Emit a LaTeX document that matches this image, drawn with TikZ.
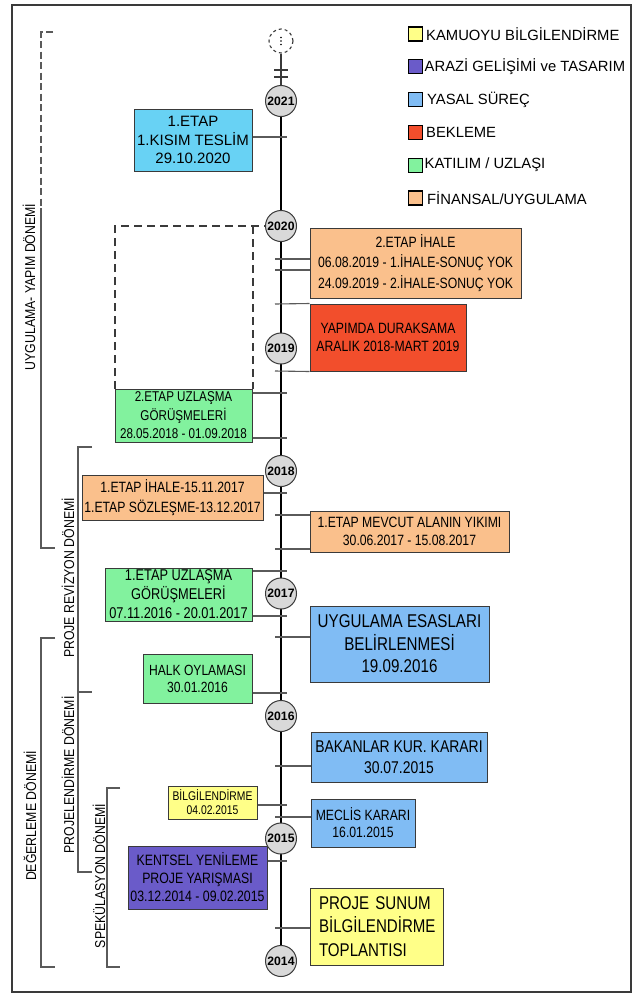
\documentclass[tikz,border=0pt]{standalone}
\usepackage{fontspec}
\setmainfont{Liberation Sans}
\newfontfamily\narrowsf{Liberation Sans}[FakeStretch=0.82]
\newfontfamily\labelsf{Liberation Sans}[FakeStretch=0.86]

\definecolor{boxline}{HTML}{3A3A3A}
\definecolor{tickgray}{HTML}{5A5A5A}
\definecolor{cyanbox}{HTML}{68D2F4}
\definecolor{orangebox}{HTML}{FAC08C}
\definecolor{redbox}{HTML}{F24E2C}
\definecolor{greenbox}{HTML}{82F29E}
\definecolor{bluebox}{HTML}{80BCF4}
\definecolor{purplebox}{HTML}{6A5BC9}
\definecolor{yellowbox}{HTML}{FFFF88}
\definecolor{yearfill}{HTML}{D9D9D9}

\tikzset{
  evbox/.style={draw=boxline, line width=1pt, inner sep=0pt, align=center, text=black},
  yearnode/.style={circle, draw=boxline, fill=yearfill, line width=1pt, minimum size=31pt,
    inner sep=0pt, font=\bfseries\fontsize{12.2}{12.2}\selectfont},
  tk/.style={draw=tickgray, line width=1.1pt},
  axisline/.style={draw=black, line width=2.2pt},
  brk/.style={draw=tickgray, line width=1.1pt},
  periodlabel/.style={rotate=90, inner sep=0pt, text=black, font=\labelsf\fontsize{14.3}{14.3}\selectfont},
  lgsq/.style={draw=black, line width=1.2pt, minimum size=14pt, inner sep=0pt},
  lgtx/.style={anchor=west, inner sep=0pt, text=black, font=\fontsize{14.8}{14.8}\selectfont},
  dashframe/.style={draw=boxline, line width=1.1pt, dash pattern=on 8pt off 5pt}
}

\begin{document}
\begin{tikzpicture}[x=1pt,y=-1pt]
\useasboundingbox (0,0) rectangle (639,994);
\fill[white] (0,0) rectangle (639,994);

% outer frame
\draw[draw=boxline, line width=1.3pt] (12,5) rectangle (631,992);

% ---------- period brackets on the left ----------
\draw[brk, dash pattern=on 7pt off 3.5pt] (53,32) -- (41,32) -- (41,208);
\draw[brk] (41,208) -- (41,548) -- (55,548);
\node[periodlabel] (pUyg) at (29,287) {UYGULAMA- YAPIM DÖNEMİ};

\draw[brk] (92,447) -- (78,447) -- (78,692) -- (92,692);
\node[periodlabel] (pRev) at (68,578) {PROJE REVİZYON DÖNEMİ};

\draw[brk] (78,692) -- (78,872) -- (92,872);
\node[periodlabel] (pPrj) at (68,775) {PROJELENDİRME DÖNEMİ};

\draw[brk] (55,638) -- (41,638) -- (41,967) -- (55,967);
\node[periodlabel] (pDeg) at (30,816) {DEĞERLEME DÖNEMİ};

\draw[brk] (120,788) -- (107,788) -- (107,967) -- (120,967);
\node[periodlabel] (pSpk) at (99,876) {SPEKÜLASYON DÖNEMİ};

% ---------- dashed frame above the 2nd stage talks ----------
\draw[dashframe] (115,389) -- (115,226) -- (281,226);
\draw[dashframe] (253,226) -- (253,389);

% ---------- axis ----------
\coordinate (axTop) at (281,101);
\coordinate (axBot) at (281,961);
\draw[axisline] (axTop) -- (axBot);

% break between the open end and 2021
\node[circle, draw=boxline, dashed, line width=1.1pt, minimum size=24pt, inner sep=0pt, fill=white] (open) at (281,41) {};
\fill[black] (281,37.5) circle (0.9pt) (281,41) circle (0.9pt) (281,44.5) circle (0.9pt);
\coordinate (brkA) at (281,70);
\coordinate (brkB) at (281,77);
\draw[draw=boxline, line width=1.1pt] (open.south) -- (brkA);
\draw[draw=boxline, line width=1.1pt] (brkB) -- (281,86);
\draw[draw=boxline, line width=1.1pt] (brkA) -- (brkB);
\draw[draw=boxline, line width=1.1pt] ([xshift=-7pt]brkA) -- ([xshift=7pt]brkA);
\draw[draw=boxline, line width=1.1pt] ([xshift=-7pt]brkB) -- ([xshift=7pt]brkB);

% ---------- events ----------
\node[evbox, fill=cyanbox, minimum width=118pt, minimum height=62pt,
  font=\fontsize{15}{18.5}\selectfont] (ev1) at (193,140)
  {1.ETAP\\1.KISIM TESLİM\\29.10.2020};

\node[evbox, fill=orangebox, minimum width=211pt, minimum height=70pt,
  font=\narrowsf\fontsize{14.9}{20.5}\selectfont] (ev2) at (415.5,263)
  {2.ETAP İHALE\\06.08.2019 - 1.İHALE-SONUÇ YOK\\24.09.2019 - 2.İHALE-SONUÇ YOK};

\node[evbox, fill=redbox, minimum width=156pt, minimum height=67pt,
  font=\narrowsf\fontsize{14.9}{17.6}\selectfont] (ev3) at (388,337.5)
  {YAPIMDA DURAKSAMA\\ARALIK 2018-MART 2019};

\node[evbox, fill=greenbox, minimum width=137pt, minimum height=53pt,
  font=\narrowsf\fontsize{14.2}{18.5}\selectfont] (ev4) at (183.5,415.5)
  {2.ETAP UZLAŞMA\\GÖRÜŞMELERİ\\28.05.2018 - 01.09.2018};

\node[evbox, fill=orangebox, minimum width=181pt, minimum height=45pt,
  font=\narrowsf\fontsize{14.9}{20}\selectfont] (ev5) at (172.5,497.5)
  {1.ETAP İHALE-15.11.2017\\1.ETAP SÖZLEŞME-13.12.2017};

\node[evbox, fill=orangebox, minimum width=199pt, minimum height=41pt,
  font=\narrowsf\fontsize{14.9}{17.5}\selectfont] (ev6) at (409.5,531.5)
  {1.ETAP MEVCUT ALANIN YIKIMI\\30.06.2017 - 15.08.2017};

\node[evbox, fill=greenbox, minimum width=147pt, minimum height=53pt,
  font=\narrowsf\fontsize{15.6}{19}\selectfont] (ev7) at (178.5,594.5)
  {1.ETAP UZLAŞMA\\GÖRÜŞMELERİ\\07.11.2016 - 20.01.2017};

\node[evbox, fill=bluebox, minimum width=179pt, minimum height=76pt,
  font=\narrowsf\fontsize{18.5}{22.5}\selectfont] (ev8) at (399.5,644)
  {UYGULAMA ESASLARI\\BELİRLENMESİ\\19.09.2016};

\node[evbox, fill=greenbox, minimum width=109pt, minimum height=49pt,
  font=\narrowsf\fontsize{14.75}{17}\selectfont] (ev9) at (197.5,678.5)
  {HALK OYLAMASI\\30.01.2016};

\node[evbox, fill=bluebox, minimum width=176pt, minimum height=50pt,
  font=\narrowsf\fontsize{17}{21}\selectfont] (ev10) at (399,757)
  {BAKANLAR KUR. KARARI\\30.07.2015};

\node[evbox, fill=yellowbox, minimum width=89pt, minimum height=33pt,
  font=\narrowsf\fontsize{12.6}{14}\selectfont] (ev11) at (212.5,802.5)
  {BİLGİLENDİRME\\04.02.2015};

\node[evbox, fill=bluebox, minimum width=104pt, minimum height=48pt,
  font=\narrowsf\fontsize{14.9}{17}\selectfont] (ev12) at (363,823)
  {MECLİS KARARI\\16.01.2015};

\node[evbox, fill=purplebox, minimum width=139pt, minimum height=63pt,
  font=\narrowsf\fontsize{15}{18}\selectfont] (ev13) at (197.5,877.5)
  {KENTSEL YENİLEME\\PROJE YARIŞMASI\\03.12.2014 - 09.02.2015};

\node[evbox, fill=yellowbox, minimum height=77pt, text width=115pt, align=left,
  inner xsep=9pt, font=\narrowsf\fontsize{18.4}{23.6}\selectfont] (ev14) at (376.5,926.5)
  {PROJE SUNUM\\BİLGİLENDİRME\\TOPLANTISI};

% ---------- ticks from events to the axis ----------
% left-hand events: tick runs from the box to just past the axis
\coordinate (l1) at (287,137);   \draw[tk] (ev1.east |- l1) -- (l1);
\coordinate (l4a) at (287,393);  \draw[tk] (ev4.east |- l4a) -- (l4a);
\coordinate (l4b) at (287,438);  \draw[tk] (ev4.east |- l4b) -- (l4b);
\coordinate (l5) at (287,493);   \draw[tk] (ev5.east |- l5) -- (l5);
\coordinate (l7a) at (287,571);  \draw[tk] (ev7.east |- l7a) -- (l7a);
\coordinate (l7b) at (287,616);  \draw[tk] (ev7.east |- l7b) -- (l7b);
\coordinate (l9) at (287,693);   \draw[tk] (ev9.east |- l9) -- (l9);
\coordinate (l11) at (287,805);  \draw[tk] (ev11.east |- l11) -- (l11);
\coordinate (l13) at (287,861);  \draw[tk] (ev13.east |- l13) -- (l13);
% right-hand events: tick starts just left of the axis
\coordinate (r2a) at (275,259);  \draw[tk] (r2a) -- (ev2.west |- r2a);
\coordinate (r2b) at (275,270);  \draw[tk] (r2b) -- (ev2.west |- r2b);
\coordinate (r3a) at (275,304);  \draw[tk] (r3a) -- (ev3.north west);
\coordinate (r3b) at (275,371);  \draw[tk] (r3b) -- (ev3.south west);
\coordinate (r6a) at (275,515);  \draw[tk] (r6a) -- (ev6.west |- r6a);
\coordinate (r6b) at (275,549);  \draw[tk] (r6b) -- (ev6.west |- r6b);
\coordinate (r8) at (275,637);   \draw[tk] (r8) -- (ev8.west |- r8);
\coordinate (r10) at (275,766);  \draw[tk] (r10) -- (ev10.west |- r10);
\coordinate (r12) at (275,817);  \draw[tk] (r12) -- (ev12.west |- r12);
\coordinate (r14) at (275,928);  \draw[tk] (r14) -- (ev14.west |- r14);

% ---------- years ----------
\node[yearnode] (y2021) at (281,101) {2021};
\node[yearnode] (y2020) at (281,226) {2020};
\node[yearnode] (y2019) at (281,348.5) {2019};
\node[yearnode] (y2018) at (281,471) {2018};
\node[yearnode] (y2017) at (281,593.5) {2017};
\node[yearnode] (y2016) at (281,716) {2016};
\node[yearnode] (y2015) at (281,838.5) {2015};
\node[yearnode] (y2014) at (281,961) {2014};

% ---------- legend ----------
\node[lgsq, fill=yellowbox] (lg1) at (415.8,34) {};
\node[lgtx] (lgt1) at (426,34) {KAMUOYU BİLGİLENDİRME};
\node[lgsq, fill=purplebox] (lg2) at (415.8,66.8) {};
\node[lgtx] (lgt2) at (424.5,66.8) {ARAZİ GELİŞİMİ ve TASARIM};
\node[lgsq, fill=bluebox] (lg3) at (415.8,99.6) {};
\node[lgtx] (lgt3) at (427,99.6) {YASAL SÜREÇ};
\node[lgsq, fill=redbox] (lg4) at (415.8,132.4) {};
\node[lgtx] (lgt4) at (426,132.4) {BEKLEME};
\node[lgsq, fill=greenbox] (lg5) at (415.8,165.2) {};
\node[lgtx] (lgt5) at (424.5,165.2) {KATILIM / UZLAŞI};
\node[lgsq, fill=orangebox] (lg6) at (415.8,198) {};
\node[lgtx] (lgt6) at (427,198) {FİNANSAL/UYGULAMA};
\end{tikzpicture}
\end{document}
